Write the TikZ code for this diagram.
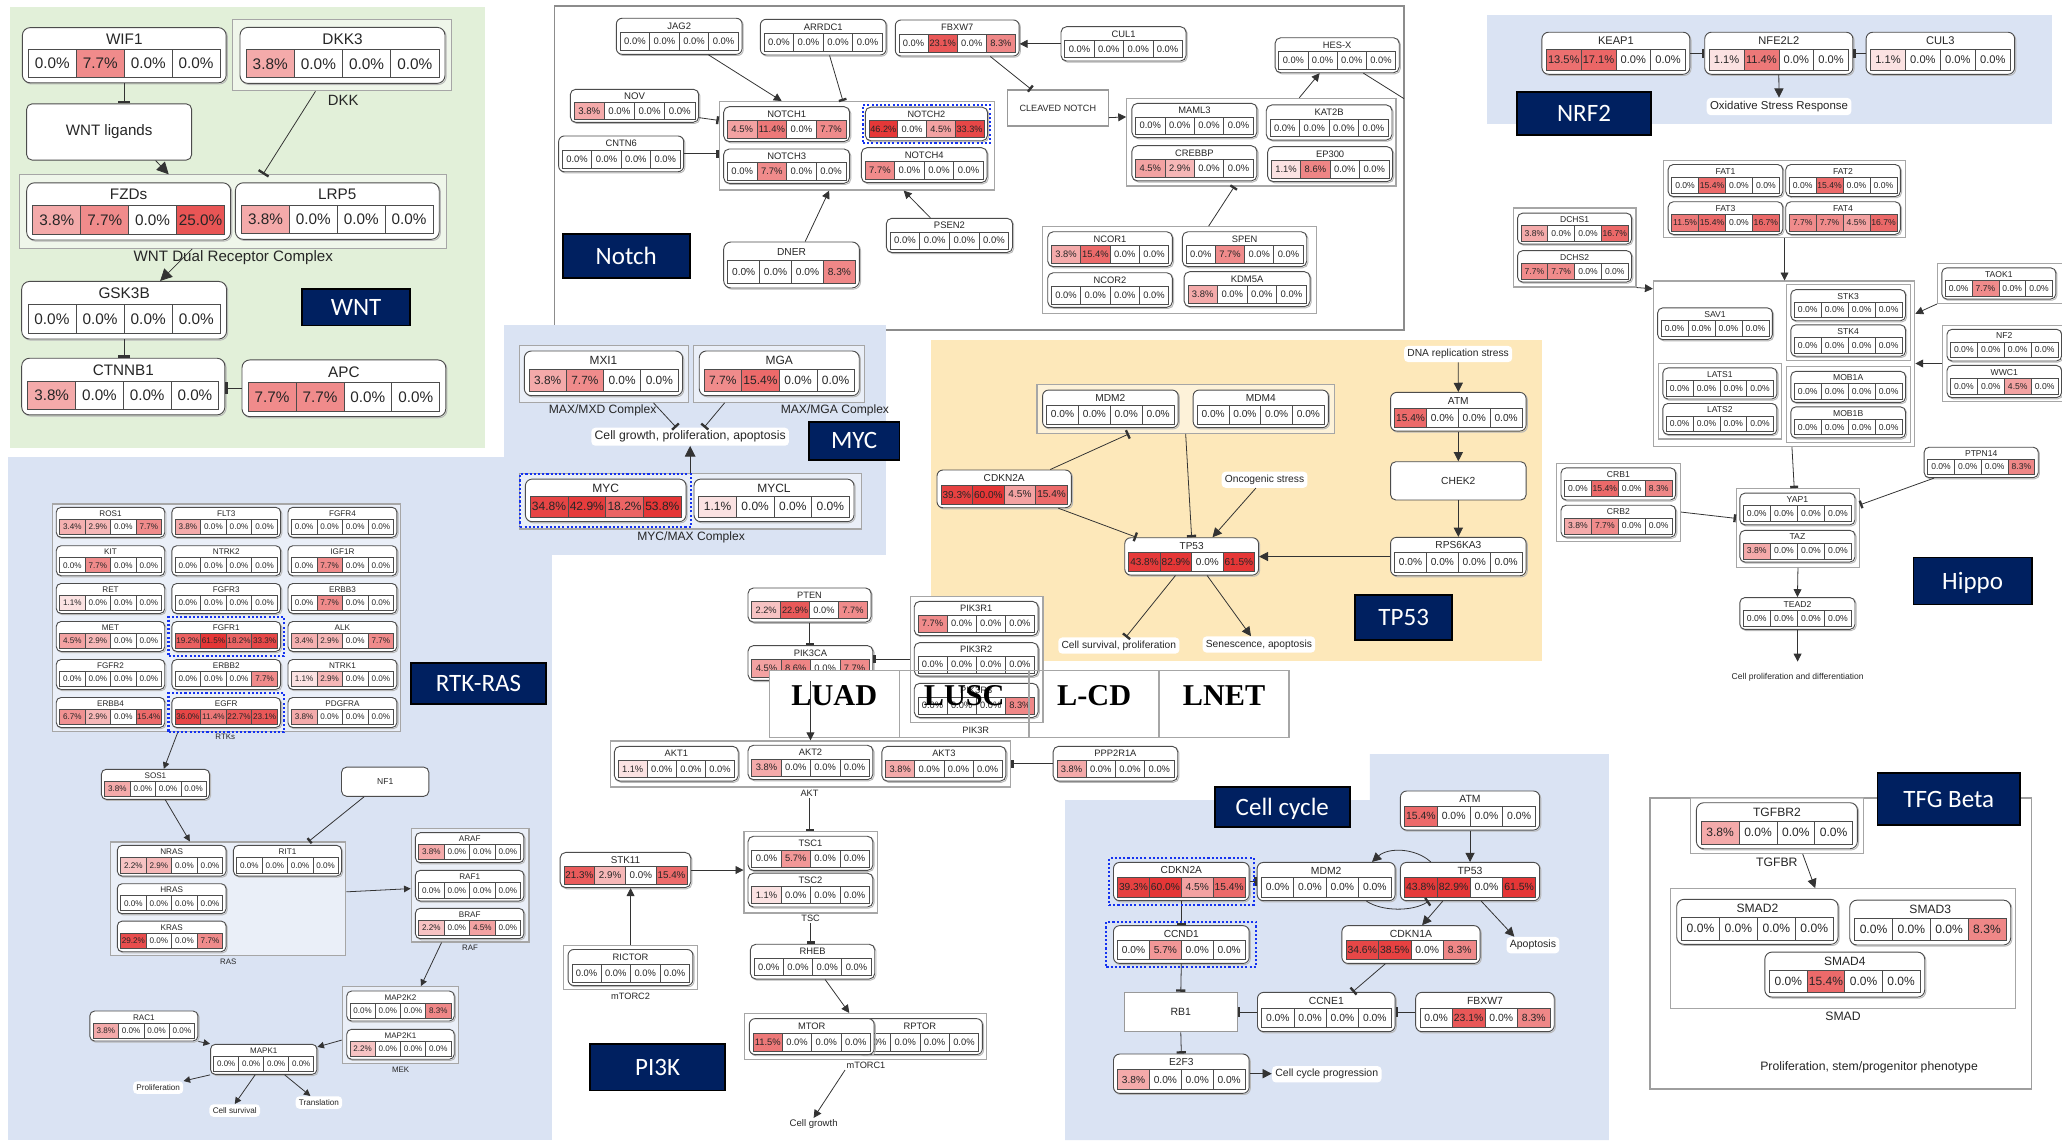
\documentclass[tikz,border=0pt]{standalone}
\usepackage{fontspec}
\setmainfont{Liberation Sans}
\newfontfamily\lblfont{Carlito}
\newfontfamily\tabfont{Liberation Serif}
\usetikzlibrary{arrows.meta,calc,fit}
\definecolor{hot}{RGB}{228,48,48}
\definecolor{pblue}{RGB}{218,227,243}
\definecolor{pgreen}{RGB}{226,240,217}
\definecolor{pyellow}{RGB}{253,232,186}
\definecolor{ttlnavy}{RGB}{0,32,96}
\definecolor{hlblue}{RGB}{20,50,240}
\newcommand{\fsz}[1]{\fontsize{#1pt}{#1pt}\selectfont}
\def\zz{0.0,0.0,0.0,0.0}

% gene box: name, x1, y1, x2, y2, title, four alteration frequencies
\newcommand{\gn}[7]{%
  \pgfmathsetmacro\gw{#4-#2}%
  \pgfmathsetmacro\gh{#5-#3}%
  \pgfmathsetmacro\gfs{0.075*\gw}%
  \pgfmathsetmacro\gcx{(#2+#4)/2}%
  \pgfmathsetmacro\gcy{(#3+#5)/2}%
  \pgfmathsetmacro\grc{min(0.16*\gh,6)}%
  \draw[black!28, line width=0.7pt, rounded corners=\grc pt] (#2+0.9,#3+0.9) rectangle (#4+0.9,#5+0.9);
  \node[genebox, rounded corners=\grc pt, minimum width=\gw pt, minimum height=\gh pt] (#1) at (\gcx,\gcy) {};
  \pgfmathsetmacro\gty{#3+0.21*\gh}%
  \node[gtext, font=\fsz{\gfs}] (#1-t) at (\gcx,\gty) {#6};
  \pgfmathsetmacro\gcw{0.94*\gw/4}%
  \pgfmathsetmacro\gch{0.5*\gh}%
  \pgfmathsetmacro\gcyc{#5-0.1*\gh-0.5*\gch}%
  \pgfmathsetmacro\gxs{#2+0.03*\gw+0.5*\gcw}%
  \edef\gvals{#7}%
  \foreach \v [count=\i from 0] in \gvals {%
    \pgfmathtruncatemacro\pc{\v<0.05 ? 0 : min(97,max(12,12+22*ln(max(\v,1))))}%
    \pgfmathsetmacro\gxc{\gxs+\i*\gcw}%
    \node[gcell, fill=hot!\pc!white, minimum width=\gcw pt, minimum height=\gch pt, font=\fsz{\gfs}] (#1-\i) at (\gxc,\gcyc) {\v\%};
  }%
}
% plain box: [style] name, x1, y1, x2, y2, text
\newcommand{\bx}[7][]{%
  \pgfmathsetmacro\bw{#5-#3}%
  \pgfmathsetmacro\bh{#6-#4}%
  \node[inner sep=0pt, #1, minimum width=\bw pt, minimum height=\bh pt] (#2) at ({(#3+#5)/2},{(#4+#6)/2}) {#7};
}

\begin{document}
\begin{tikzpicture}[x=1pt, y=-1pt,
  genebox/.style={draw=black!70, fill=white, line width=0.7pt, inner sep=0pt},
  gtext/.style={inner sep=0pt, text=black!85},
  gcell/.style={draw=black!70, line width=0.5pt, inner sep=0pt, text=black!85},
  grp/.style={draw=black!35, line width=0.9pt, fill=white, fill opacity=0.45},
  grpw/.style={draw=black!35, line width=0.9pt, fill=white},
  plain/.style={draw=black!70, fill=white, line width=0.7pt, rounded corners=4pt, text=black!85},
  sq/.style={draw=black!40, fill=white, line width=0.9pt, text=black!85},
  ptl/.style={fill=ttlnavy, draw=black, line width=1.3pt, text=white, font=\lblfont\fsz{19}, text depth=0pt},
  txt/.style={inner sep=1pt, text=black!85},
  lblw/.style={fill=white, rounded corners=3pt, inner sep=2.5pt, text=black!85},
  hl/.style={draw=hlblue, line width=1.6pt, dash pattern=on 1.6pt off 1.6pt, inner sep=2.5pt},
  frame/.style={draw=black!45, line width=1.2pt},
  tbl/.style={draw=black!35, line width=1.1pt},
  conn/.style={draw=black!80, line width=0.6pt},
  act/.style={draw=black!80, line width=0.6pt, -{Triangle[length=#1pt, width=#1pt]}},
  act/.default=6,
  inh/.style={draw=black!80, line width=0.6pt, -{Bar[width=#1pt, line width=1.8pt]}},
  inh/.default=6,
]
\useasboundingbox (0,0) rectangle (1568,867);
\fill[white] (0,0) rectangle (1568,867);

% ---------- panel backgrounds ----------
\fill[pgreen] (7.6,5) rectangle (368.7,341);
\fill[pblue] (5.9,347.8) rectangle (420,867);
\draw[frame] (421.8,4.6) rectangle (1067.6,251);
\fill[pblue] (383,247) rectangle (674,422);
\fill[pyellow] (708,258.6) rectangle (1172.5,503);
\fill[pblue] (1131,11.4) rectangle (1560,94);
\fill[pblue] (810,608.4) -- (1041.6,608.4) -- (1041.6,573.4) -- (1223.5,573.4) -- (1223.5,867) -- (810,867) -- cycle;
\draw[frame, draw=black!38] (1254.8,606.6) rectangle (1544.7,827.9);

% ---------- WNT ----------
\gn{WIF1}{17}{21}{172}{63}{WIF1}{0.0,7.7,0.0,0.0}
\bx[grp]{dkkg}{176.6}{14.7}{343.4}{69}{}
\gn{DKK3}{182.5}{20.8}{338.4}{63.4}{DKK3}{3.8,0.0,0.0,0.0}
\node[txt, font=\fsz{11.3}] (dkklab) at (261,76) {DKK};
\bx[plain, font=\fsz{11.5}]{lig}{20.3}{79}{145.7}{121.7}{WNT ligands}
\bx[grp]{dual}{14.7}{133}{339.6}{188.8}{}
\gn{FZD}{20.3}{139}{175.4}{182.5}{FZDs}{3.8,7.7,0.0,25.0}
\gn{LRP5}{179}{139}{334}{182}{LRP5}{3.8,0.0,0.0,0.0}
\node[txt, font=\fsz{11.5}] (duallab) at (177.4,196) {WNT Dual Receptor Complex};
\gn{GSK3B}{16.5}{214}{172.3}{257.8}{GSK3B}{\zz}
\gn{CTNNB1}{16.5}{272.4}{171}{315.5}{CTNNB1}{3.8,0.0,0.0,0.0}
\gn{APC}{184}{273.7}{339}{316.8}{APC}{7.7,7.7,0.0,0.0}

% ---------- Notch ----------
\bx[grp]{ntg}{547}{77.3}{756}{144.5}{}
\gn{JAG2}{468.7}{13.9}{564.3}{41.3}{JAG2}{\zz}
\gn{ARRDC1}{578.2}{14.7}{673.8}{41.8}{ARRDC1}{\zz}
\gn{nFBXW7}{680.8}{15.2}{775}{42.6}{FBXW7}{0.0,23.1,0.0,8.3}
\gn{CUL1}{806.8}{20.3}{901.9}{46.4}{CUL1}{\zz}
\gn{NOV}{433.7}{67.9}{531.3}{93}{NOV}{3.8,0.0,0.0,0.0}
\gn{CNTN6}{424.8}{103.4}{519.9}{130.6}{CNTN6}{\zz}
\gn{NOTCH1}{550.3}{81.1}{646.1}{107.7}{NOTCH1}{4.5,11.4,0.0,7.7}
\gn{NOTCH2}{658}{81.5}{751}{107}{NOTCH2}{46.2,0.0,4.5,33.3}
\gn{NOTCH3}{550.3}{113.3}{646.1}{139.4}{NOTCH3}{0.0,7.7,0.0,0.0}
\gn{NOTCH4}{655}{112.3}{750.6}{138.9}{NOTCH4}{7.7,0.0,0.0,0.0}
\gn{PSEN2}{674}{166}{770}{192}{PSEN2}{\zz}
\gn{DNER}{550.3}{184}{653.5}{219}{DNER}{0.0,0.0,0.0,8.3}
\bx[sq, font=\fsz{6.9}]{clv}{766}{68.4}{842.8}{95.8}{CLEAVED NOTCH}
\gn{HESX}{969.6}{28.7}{1064}{55.3}{HES-X}{\zz}
\bx[grp]{maml}{856.8}{74.8}{1061.6}{141.4}{}
\gn{MAML3}{860.7}{78.6}{955.8}{104.7}{MAML3}{\zz}
\gn{KAT2B}{962.9}{79.8}{1058.5}{106.5}{KAT2B}{\zz}
\gn{CREBBP}{860.7}{110.8}{955.8}{137.6}{CREBBP}{4.5,2.9,0.0,0.0}
\gn{EP300}{963.9}{111.5}{1059}{138.1}{EP300}{1.1,8.6,0.0,0.0}
\bx[grp]{ncor}{792.9}{172.4}{1001.3}{238.3}{}
\gn{NCOR1}{796.7}{176.2}{891.5}{202.8}{NCOR1}{3.8,15.4,0.0,0.0}
\gn{SPEN}{899.1}{176.2}{993.7}{202.8}{SPEN}{0.0,7.7,0.0,0.0}
\gn{NCOR2}{796.7}{207.4}{891.5}{233.7}{NCOR2}{\zz}
\gn{KDM5A}{900.4}{206.6}{996.2}{233.2}{KDM5A}{3.8,0.0,0.0,0.0}
\coordinate (nexit) at (1067.6,75);

% ---------- NRF2 ----------
\gn{KEAP1}{1172.5}{24.5}{1285}{56.5}{KEAP1}{13.5,17.1,0.0,0.0}
\gn{NFE2L2}{1296.3}{24.5}{1409}{56.5}{NFE2L2}{1.1,11.4,0.0,0.0}
\gn{CUL3}{1419}{24.5}{1532}{56.5}{CUL3}{1.1,0.0,0.0,0.0}
\node[lblw, font=\fsz{8.7}] (oxi) at (1352.8,81) {Oxidative Stress Response};

% ---------- Hippo ----------
\bx[grp]{fatg}{1265}{121.9}{1449}{180.9}{}
\gn{FAT1}{1268.5}{125.1}{1355.7}{149.5}{FAT1}{0.0,15.4,0.0,0.0}
\gn{FAT2}{1357.9}{125.1}{1445.1}{149.5}{FAT2}{0.0,15.4,0.0,0.0}
\gn{FAT3}{1268.5}{153.4}{1355.7}{178.3}{FAT3}{11.5,15.4,0.0,16.7}
\gn{FAT4}{1357.9}{153.4}{1445.1}{178.3}{FAT4}{7.7,7.7,4.5,16.7}
\bx[grp]{dchsg}{1151}{158.1}{1244}{218.2}{}
\gn{DCHS1}{1154}{162.1}{1240.7}{185.6}{DCHS1}{3.8,0.0,0.0,16.7}
\gn{DCHS2}{1154}{190.6}{1240.7}{214.5}{DCHS2}{7.7,7.7,0.0,0.0}
\bx[grp]{core}{1257.3}{213.7}{1456}{339.6}{}
\gn{SAV1}{1260.5}{234.1}{1347.8}{258.3}{SAV1}{\zz}
\bx[grp]{stkg}{1358.4}{216.3}{1452.5}{274}{}
\gn{STK3}{1361.8}{220.3}{1449}{243.9}{STK3}{\zz}
\gn{STK4}{1361.8}{247}{1449}{270.9}{STK4}{\zz}
\bx[grp]{latsg}{1261}{276.7}{1354.7}{333.8}{}
\gn{LATS1}{1264.5}{279.8}{1351.2}{303.4}{LATS1}{\zz}
\gn{LATS2}{1264.5}{306.8}{1351.2}{330.4}{LATS2}{\zz}
\bx[grp]{mobg}{1358.4}{278.8}{1452.5}{336.4}{}
\gn{MOB1A}{1361.8}{282.4}{1449}{306}{MOB1A}{\zz}
\gn{MOB1B}{1361.8}{309.4}{1449}{333}{MOB1B}{\zz}
\bx[grp]{taokg}{1473.4}{200.6}{1570}{230.7}{}
\gn{TAOK1}{1476.6}{203.7}{1563.3}{227.4}{TAOK1}{0.0,7.7,0.0,0.0}
\bx[grp]{nfg}{1477.3}{247.8}{1572}{305}{}
\gn{NF2}{1480.5}{250.4}{1567.7}{274.5}{NF2}{\zz}
\gn{WWC1}{1480.5}{277.9}{1567.7}{302.4}{WWC1}{0.0,0.0,4.5,0.0}
\gn{PTPN14}{1463.2}{340.1}{1549.9}{363.2}{PTPN14}{0.0,0.0,0.0,8.3}
\bx[grp]{crbg}{1183.7}{352.7}{1277.9}{411.7}{}
\gn{CRB1}{1187}{355.8}{1274.2}{380.2}{CRB1}{0.0,15.4,0.0,8.3}
\gn{CRB2}{1187}{384.2}{1274.2}{408.5}{CRB2}{3.8,7.7,0.0,0.0}
\bx[grp]{yapg}{1320.5}{371.6}{1413.9}{431.3}{}
\gn{YAP1}{1323}{375}{1410.6}{399.1}{YAP1}{\zz}
\gn{TAZ}{1323}{403.3}{1410.6}{427.4}{TAZ}{3.8,0.0,0.0,0.0}
\gn{TEAD2}{1323}{454.4}{1410.6}{478.6}{TEAD2}{\zz}
\node[txt, font=\fsz{6.5}] (hipout) at (1367,515.3) {Cell proliferation and differentiation};

% ---------- MYC ----------
\bx[grp]{mxig}{394.9}{262.9}{523.7}{305.9}{}
\gn{MXI1}{398.7}{266.9}{519.1}{300.9}{MXI1}{3.8,7.7,0.0,0.0}
\bx[grp]{mgag}{527.1}{262.9}{657.2}{305.9}{}
\gn{MGA}{531.7}{266.9}{653.4}{300.9}{MGA}{7.7,15.4,0.0,0.0}
\node[txt, font=\fsz{9.2}] (mxdlab) at (458.3,311.8) {MAX/MXD Complex};
\node[txt, font=\fsz{9.2}] (mgalab) at (634.9,311.8) {MAX/MGA Complex};
\node[lblw, font=\fsz{9.3}] (cgpa) at (524.8,332.1) {Cell growth, proliferation, apoptosis};
\bx[grp]{mmg}{394.9}{360}{654.8}{402.3}{}
\gn{MYC}{399.5}{364.3}{521.7}{396.7}{MYC}{34.8,42.9,18.2,53.8}
\gn{MYCL}{527.7}{364.3}{649.4}{396.7}{MYCL}{1.1,0.0,0.0,0.0}
\node[txt, font=\fsz{9.2}] (mmlab) at (525.5,408.9) {MYC/MAX Complex};

% ---------- RTK-RAS ----------
\bx[grp]{rtkg}{40.2}{383.3}{304.7}{556.1}{}
\gn{ROS1}{42.8}{385.8}{125.3}{408.6}{ROS1}{3.4,2.9,0.0,7.7}
\gn{FLT3}{130.7}{385.8}{213.4}{408.6}{FLT3}{3.8,0.0,0.0,0.0}
\gn{FGFR4}{219}{385.8}{301.8}{408.6}{FGFR4}{\zz}
\gn{KIT}{42.8}{415}{125.3}{437.8}{KIT}{0.0,7.7,0.0,0.0}
\gn{NTRK2}{130.7}{415}{213.4}{437.8}{NTRK2}{\zz}
\gn{IGF1R}{219}{415}{301.8}{437.8}{IGF1R}{0.0,7.7,0.0,0.0}
\gn{RET}{42.8}{443.7}{125.3}{466.5}{RET}{1.1,0.0,0.0,0.0}
\gn{FGFR3}{130.7}{443.7}{213.4}{466.5}{FGFR3}{\zz}
\gn{ERBB3}{219}{443.7}{301.8}{466.5}{ERBB3}{0.0,7.7,0.0,0.0}
\gn{MET}{42.8}{472.6}{125.3}{495.4}{MET}{4.5,2.9,0.0,0.0}
\gn{FGFR1}{130.7}{472.6}{213.4}{495.4}{FGFR1}{19.2,61.5,18.2,33.3}
\gn{ALK}{219}{472.6}{301.8}{495.4}{ALK}{3.4,2.9,0.0,7.7}
\gn{FGFR2}{42.8}{501.5}{125.3}{524.3}{FGFR2}{\zz}
\gn{ERBB2}{130.7}{501.5}{213.4}{524.3}{ERBB2}{0.0,0.0,0.0,7.7}
\gn{NTRK1}{219}{501.5}{301.8}{524.3}{NTRK1}{1.1,2.9,0.0,0.0}
\gn{ERBB4}{42.8}{530.4}{125.3}{553.2}{ERBB4}{6.7,2.9,0.0,15.4}
\gn{EGFR}{130.7}{530.4}{213.4}{553.2}{EGFR}{36.0,11.4,22.7,23.1}
\gn{PDGFRA}{219}{530.4}{301.8}{553.2}{PDGFRA}{3.8,0.0,0.0,0.0}
\node[txt, font=\fsz{6}] (rtklab) at (171.3,560.5) {RTKs};
\gn{SOS1}{77.1}{585}{159.3}{607.8}{SOS1}{3.8,0.0,0.0,0.0}
\bx[plain, font=\fsz{6.5}]{NF1}{259.7}{583.3}{326.1}{605.6}{NF1}
\bx[grp]{rasg}{84.3}{640.3}{263}{726.5}{}
\gn{NRAS}{89.2}{642.8}{171.9}{666.2}{NRAS}{2.2,2.9,0.0,0.0}
\gn{RIT1}{177.5}{642.8}{259.7}{666.2}{RIT1}{\zz}
\gn{HRAS}{89.2}{672}{171.9}{694.8}{HRAS}{\zz}
\gn{KRAS}{89.2}{700.4}{171.9}{723.7}{KRAS}{29.2,0.0,0.0,7.7}
\node[txt, font=\fsz{6}] (raslab) at (173.5,731) {RAS};
\bx[grp]{rafg}{312.7}{629.9}{402.2}{716.3}{}
\gn{ARAF}{315.9}{633.2}{398.4}{656}{ARAF}{3.8,0.0,0.0,0.0}
\gn{RAF1}{315.9}{661.8}{398.4}{685.2}{RAF1}{\zz}
\gn{BRAF}{315.9}{690.7}{398.4}{713.8}{BRAF}{2.2,0.0,4.5,0.0}
\node[txt, font=\fsz{6}] (raflab) at (357.4,720.8) {RAF};
\bx[grp]{mekg}{260.3}{750.3}{348.6}{808.9}{}
\gn{MAP2K2}{263.7}{753.6}{345.4}{776.4}{MAP2K2}{0.0,0.0,0.0,8.3}
\gn{MAP2K1}{263.7}{782.7}{345.4}{805.5}{MAP2K1}{2.2,0.0,0.0,0.0}
\node[txt, font=\fsz{6}] (meklab) at (304.7,813.2) {MEK};
\gn{RAC1}{68.3}{768.8}{150.5}{791.6}{RAC1}{3.8,0.0,0.0,0.0}
\gn{MAPK1}{160.1}{794.1}{241}{817}{MAPK1}{\zz}
\node[lblw, font=\fsz{6.2}] (prolif) at (120.3,827) {Proliferation};
\node[lblw, font=\fsz{6.2}] (csurv) at (178.5,844.5) {Cell survival};
\node[lblw, font=\fsz{6.2}] (transl) at (242.5,838.4) {Translation};

% ---------- TP53 ----------
\node[lblw, font=\fsz{7.8}] (dna) at (1108.8,269.2) {DNA replication stress};
\gn{tATM}{1057.4}{298.4}{1160.5}{327.8}{ATM}{15.4,0.0,0.0,0.0}
\bx[plain, font=\fsz{7.8}]{CHEK2}{1057.4}{351.1}{1160.5}{380.2}{CHEK2}
\gn{RPS6KA3}{1057.4}{408.6}{1160.5}{437.8}{RPS6KA3}{\zz}
\bx[grp]{mdmg}{788.5}{292.3}{1014.7}{329.5}{}
\gn{tMDM2}{792.8}{296.6}{895.9}{325.2}{MDM2}{\zz}
\gn{MDM4}{907.3}{296.6}{1010.1}{325.2}{MDM4}{\zz}
\gn{tCDKN2A}{712.5}{357.4}{814.7}{386.1}{CDKN2A}{39.3,60.0,4.5,15.4}
\node[lblw, font=\fsz{7.8}] (onc) at (961.6,364.8) {Oncogenic stress};
\gn{tTP53}{855.3}{408.9}{957}{437.3}{TP53}{43.8,82.9,0.0,61.5}
\node[lblw, font=\fsz{7.8}] (csp) at (850.8,490.9) {Cell survival, proliferation};
\node[lblw, font=\fsz{7.8}] (sen) at (957.3,490.1) {Senescence, apoptosis};

% ---------- PI3K ----------
\gn{PTEN}{568.8}{447.1}{662.4}{473.1}{PTEN}{2.2,22.9,0.0,7.7}
\gn{PIK3CA}{568.8}{490.9}{663.8}{517.4}{PIK3CA}{4.5,8.6,0.0,7.7}
\bx[grpw]{pikrg}{692.1}{453.5}{793.1}{549.2}{}
\gn{PIK3R1}{695.2}{457.3}{789.4}{483.3}{PIK3R1}{7.7,0.0,0.0,0.0}
\gn{PIK3R2}{695.2}{488.7}{789.4}{514.2}{PIK3R2}{\zz}
\gn{PIK3R3}{695.2}{519.6}{789.4}{545.6}{PIK3R3}{0.0,0.0,0.0,8.3}
\node[txt, font=\fsz{7}] (pikrlab) at (742,555) {PIK3R};
\bx[grp]{aktg}{464.1}{563.4}{768.7}{598.4}{}
\gn{AKT1}{467.2}{567.5}{561.4}{594}{AKT1}{1.1,0.0,0.0,0.0}
\gn{AKT2}{568.8}{566.7}{663.8}{592.9}{AKT2}{3.8,0.0,0.0,0.0}
\gn{AKT3}{670.6}{567.5}{764.9}{594}{AKT3}{3.8,0.0,0.0,0.0}
\node[txt, font=\fsz{7}] (aktlab) at (615.6,603.5) {AKT};
\gn{PPP2R1A}{800.8}{567.5}{895.6}{594}{PPP2R1A}{3.8,0.0,0.0,0.0}
\gn{STK11}{425.9}{648.2}{525.3}{675}{STK11}{21.3,2.9,0.0,15.4}
\bx[grp]{tscg}{565.8}{632.3}{667}{694.2}{}
\gn{TSC1}{568.8}{635.9}{663.8}{661.9}{TSC1}{0.0,5.7,0.0,0.0}
\gn{TSC2}{568.8}{664}{663.8}{689.7}{TSC2}{1.1,0.0,0.0,0.0}
\node[txt, font=\fsz{7}] (tsclab) at (616.4,698.5) {TSC};
\bx[grp]{rictg}{428.4}{718.8}{530.6}{752.7}{}
\gn{RICTOR}{432}{722}{526.9}{749.4}{RICTOR}{\zz}
\node[txt, font=\fsz{7}] (mtorc2lab) at (479.5,758) {mTORC2};
\gn{RHEB}{570.6}{718}{665.2}{744.5}{RHEB}{\zz}
\bx[grp]{mtorg}{566.1}{770.7}{750.3}{805.5}{}
\gn{RPTOR}{652}{774.6}{747}{801.9}{RPTOR}{\zz}
\gn{MTOR}{569.8}{774.6}{664.7}{801.9}{MTOR}{11.5,0.0,0.0,0.0}
\node[txt, font=\fsz{7}] (mtorc1lab) at (658.5,810) {mTORC1};
\node[txt, font=\fsz{7.3}] (cgrow) at (618.7,854.7) {Cell growth};

% ---------- Cell cycle ----------
\gn{cATM}{1064.9}{601.5}{1170.8}{631.2}{ATM}{15.4,0.0,0.0,0.0}
\gn{cCDKN2A}{846.7}{655.8}{949.9}{684.9}{CDKN2A}{39.3,60.0,4.5,15.4}
\gn{cMDM2}{956}{655.8}{1060.9}{684.9}{MDM2}{\zz}
\gn{cTP53}{1064.9}{655.8}{1170.8}{684.9}{TP53}{43.8,82.9,0.0,61.5}
\gn{CCND1}{846.7}{703.9}{949.9}{732.6}{CCND1}{0.0,5.7,0.0,0.0}
\gn{CDKN1A}{1020.4}{703.9}{1125.5}{732.6}{CDKN1A}{34.6,38.5,0.0,8.3}
\node[lblw, font=\fsz{8}] (apop) at (1165.7,718.7) {Apoptosis};
\bx[sq, font=\fsz{8}]{RB1}{854.9}{754.6}{940.9}{784.5}{RB1}
\gn{CCNE1}{956.2}{754.6}{1060.9}{784.5}{CCNE1}{\zz}
\gn{cFBXW7}{1076.5}{754.6}{1181.9}{784.5}{FBXW7}{0.0,23.1,0.0,8.3}
\gn{E2F3}{846.7}{801.5}{949.9}{831.4}{E2F3}{3.8,0.0,0.0,0.0}
\node[lblw, font=\fsz{8}] (ccp) at (1008.9,816.9) {Cell cycle progression};

% ---------- TGF-beta ----------
\bx[grp]{tgfbrg}{1285.7}{606.6}{1417}{648.9}{}
\gn{TGFBR2}{1290}{610.4}{1412.4}{645.4}{TGFBR2}{3.8,0.0,0.0,0.0}
\node[txt, font=\fsz{9.3}] (tgfbrlab) at (1351.1,655.5) {TGFBR};
\bx[grp]{smadg}{1270}{675.8}{1532.8}{767}{}
\gn{SMAD2}{1275}{683.9}{1397.7}{718.1}{SMAD2}{\zz}
\gn{SMAD3}{1406.6}{684.5}{1529}{718.6}{SMAD3}{0.0,0.0,0.0,8.3}
\gn{SMAD4}{1342}{724}{1463.6}{758.2}{SMAD4}{0.0,15.4,0.0,0.0}
\node[txt, font=\fsz{9.3}] (smadlab) at (1401.5,772.5) {SMAD};
\node[txt, font=\fsz{9.3}] (tgfout) at (1421.3,811.9) {Proliferation, stem/progenitor phenotype};

% ---------- subtype table ----------
\bx[tbl, fill=white]{tc1}{585}{510}{683.8}{560.7}{}
\bx[tbl]{tc2}{683.8}{510}{782.6}{560.7}{}
\bx[tbl]{tc3}{782.6}{510}{881.4}{560.7}{}
\bx[tbl]{tc4}{881.4}{510}{980.2}{560.7}{}

% ---------- connectors: WNT ----------
\draw[inh=9] (WIF1.south) -- (WIF1.south |- lig.north);
\draw[inh=9] ($(dkkg.south west)!0.38!(dkkg.south east)$) -- ($(dual.north west)!0.57!(dual.north east)$);
\draw[act=9] ($(lig.south west)!0.78!(lig.south east)$) -- ($(dual.north west)!0.35!(dual.north east)$);
\draw[act=9] ($(dual.south west)!0.405!(dual.south east)$) -- ($(GSK3B.north west)!0.675!(GSK3B.north east)$);
\draw[inh=9] (GSK3B.south) -- (GSK3B.south |- CTNNB1.north);
\draw[inh=9] (APC.west) -- (APC.west -| CTNNB1.east);

% ---------- connectors: Notch ----------
\draw[act=6] ($(JAG2.south west)!0.73!(JAG2.south east)$) -- ($(ntg.north west)!0.228!(ntg.north east)$);
\draw[inh=6] ($(ARRDC1.south west)!0.55!(ARRDC1.south east)$) -- ($(ntg.north west)!0.45!(ntg.north east)$);
\draw[inh=6] ($(NOV.north east)!0.85!(NOV.south east)$) -- ($(ntg.north west)!0.216!(ntg.south west)$);
\draw[inh=6] (CNTN6.east) -- (CNTN6.east -| ntg.west);
\draw[inh=6] ($(nFBXW7.south west)!0.765!(nFBXW7.south east)$) -- ($(clv.north west)!0.24!(clv.north east)$);
\draw[act=6] (CUL1.west) -- (CUL1.west -| nFBXW7.east);
\draw[act=6] ($(clv.north east)!0.76!(clv.south east)$) -- ($(maml.north west)!0.216!(maml.south west)$);
\draw[act=6] ($(maml.north west)!0.64!(maml.north east)$) -- ($(HESX.south west)!0.36!(HESX.south east)$);
\draw[conn] ($(HESX.south west)!0.71!(HESX.south east)$) -- (nexit);
\draw[inh=6] ($(ncor.north west)!0.605!(ncor.north east)$) -- ($(maml.south west)!0.40!(maml.south east)$);
\draw[act=6] ($(DNER.north west)!0.6!(DNER.north east)$) -- ($(ntg.south west)!0.40!(ntg.south east)$);
\draw[act=6] ($(PSEN2.north west)!0.35!(PSEN2.north east)$) -- ($(ntg.south west)!0.67!(ntg.south east)$);

% ---------- connectors: NRF2 ----------
\draw[inh=7] (KEAP1.east) -- (NFE2L2.west);
\draw[inh=7] (CUL3.west) -- (NFE2L2.east);
\draw[act=7] (NFE2L2.south) -- (oxi.north);

% ---------- connectors: Hippo ----------
\draw[act=6] (fatg.south) -- (fatg.south |- core.north);
\draw[act=6] (dchsg.south east) -- ($(core.north west)!0.05!(core.south west)$);
\draw[act=6] (taokg.south west) -- ($(core.north east)!0.2!(core.south east)$);
\draw[act=6] (nfg.west) -- (nfg.west -| core.east);
\draw[inh=6] ($(core.south west)!0.53!(core.south east)$) -- ($(yapg.north west)!0.47!(yapg.north east)$);
\draw[inh=6] ($(crbg.north east)!0.62!(crbg.south east)$) -- ($(yapg.north west)!0.38!(yapg.south west)$);
\draw[inh=6] ($(PTPN14.south west)!0.09!(PTPN14.south east)$) -- ($(yapg.north east)!0.21!(yapg.south east)$);
\draw[act=6] (yapg.south) -- (TEAD2.north);
\draw[act=6, shorten >=8pt] (TEAD2.south) -- (hipout.north);

% ---------- connectors: MYC ----------
\draw[inh=7] ($(mxig.south west)!0.79!(mxig.south east)$) -- ($(cgpa.north west)!0.43!(cgpa.north east)$);
\draw[inh=7] ($(mgag.south west)!0.186!(mgag.south east)$) -- ($(cgpa.north west)!0.57!(cgpa.north east)$);
\draw[act=8] (cgpa.south |- mmg.north) -- (cgpa.south);

% ---------- connectors: RTK-RAS ----------
\draw[act=5] ($(rtkg.south west)!0.36!(rtkg.south east)$) -- ($(SOS1.north west)!0.577!(SOS1.north east)$);
\draw[act=5] ($(SOS1.south west)!0.59!(SOS1.south east)$) -- ($(rasg.north west)!0.337!(rasg.north east)$);
\draw[inh=5] ($(NF1.south west)!0.26!(NF1.south east)$) -- ($(rasg.north west)!0.84!(rasg.north east)$);
\draw[act=5] ($(rasg.north east)!0.44!(rasg.south east)$) -- ($(rafg.north west)!0.53!(rafg.south west)$);
\draw[act=5] ($(rafg.south west)!0.26!(rafg.south east)$) -- ($(mekg.north west)!0.675!(mekg.north east)$);
\draw[act=5] ($(mekg.north west)!0.69!(mekg.south west)$) -- ($(MAPK1.north east)!0.1!(MAPK1.south east)$);
\draw[act=5] (RAC1.south east) -- (MAPK1.north west);
\draw[act=5] (MAPK1.south west) -- (prolif.north east);
\draw[act=5] ($(MAPK1.south west)!0.42!(MAPK1.south east)$) -- (csurv.north);
\draw[act=5] ($(MAPK1.south west)!0.695!(MAPK1.south east)$) -- ($(transl.north west)!0.32!(transl.north east)$);

% ---------- connectors: TP53 ----------
\draw[act=7] (dna.south) -- (tATM.north);
\draw[act=7] (tATM.south) -- (CHEK2.north);
\draw[act=7] (CHEK2.south) -- (RPS6KA3.north);
\draw[act=7] (RPS6KA3.west) -- (RPS6KA3.west -| tTP53.east);
\draw[inh=7] ($(tCDKN2A.north west)!0.84!(tCDKN2A.north east)$) -- ($(mdmg.south west)!0.31!(mdmg.south east)$);
\draw[inh=7] ($(tCDKN2A.south west)!0.9!(tCDKN2A.south east)$) -- ($(tTP53.north west)!0.09!(tTP53.north east)$);
\draw[inh=7] (mdmg.south) -- (tTP53.north);
\draw[act=7] ($(onc.south west)!0.4!(onc.south east)$) -- ($(tTP53.north west)!0.655!(tTP53.north east)$);
\draw[inh=7] ($(tTP53.south west)!0.38!(tTP53.south east)$) -- ($(csp.north west)!0.557!(csp.north east)$);
\draw[act=7] ($(tTP53.south west)!0.615!(tTP53.south east)$) -- ($(sen.north west)!0.43!(sen.north east)$);

% ---------- connectors: PI3K ----------
\draw[inh=6] (PTEN.south) -- (PTEN.south |- PIK3CA.north);
\draw[inh=6] (pikrg.west) -- (pikrg.west -| PIK3CA.east);
\draw[act=6] (PIK3CA.south) -- (PIK3CA.south |- aktg.north);
\draw[inh=6] (PPP2R1A.west) -- (PPP2R1A.west -| aktg.east);
\draw[inh=6] (aktlab.south) -- (aktlab.south |- tscg.north);
\draw[act=6] (STK11.east) -- (STK11.east -| tscg.west);
\draw[act=6] (rictg.north) -- (rictg.north |- STK11.south);
\draw[inh=6] (tsclab.south) -- (tsclab.south |- RHEB.north);
\draw[act=6] ($(RHEB.south west)!0.6!(RHEB.south east)$) -- ($(mtorg.north west)!0.433!(mtorg.north east)$);
\draw[act=6] (mtorc1lab.south west) -- (cgrow.north);

% ---------- connectors: cell cycle ----------
\draw[act=7] (cATM.south) -- (cTP53.north);
\draw[inh=7] (cCDKN2A.east) -- (cMDM2.west);
\draw[inh=7] (cCDKN2A.south) -- (CCND1.north);
\draw[inh=7] (CCND1.south) -- (RB1.north);
\draw[inh=7] (RB1.south) -- (E2F3.north);
\draw[inh=7] (CCNE1.west) -- (RB1.east);
\draw[inh=7] (cFBXW7.west) -- (CCNE1.east);
\draw[inh=7] ($(CDKN1A.south west)!0.315!(CDKN1A.south east)$) -- ($(CCNE1.north west)!0.69!(CCNE1.north east)$);
\draw[act=7] ($(cTP53.south west)!0.305!(cTP53.south east)$) -- ($(CDKN1A.north west)!0.58!(CDKN1A.north east)$);
\draw[act=7] ($(cTP53.south west)!0.58!(cTP53.south east)$) -- ($(apop.north west)!0.15!(apop.north east)$);
\draw[act=7] (E2F3.east) -- (E2F3.east -| ccp.west);
\coordinate (tpm1) at ($(cTP53.north west)!0.22!(cTP53.north east)$);
\coordinate (tpm2) at ($(cMDM2.north west)!0.83!(cMDM2.north east)$);
\draw[act=7] (tpm1) .. controls ($(tpm1)+(-12,-11)$) and ($(tpm2)+(12,-11)$) .. (tpm2);
\coordinate (mdb1) at ($(cMDM2.south west)!0.79!(cMDM2.south east)$);
\coordinate (tpb1) at ($(cTP53.south west)!0.205!(cTP53.south east)$);
\draw[inh=7] (mdb1) .. controls ($(mdb1)+(12,8)$) and ($(tpb1)+(-12,8)$) .. (tpb1);

% ---------- connectors: TGF-beta ----------
\draw[act=7] ($(tgfbrg.south west)!0.647!(tgfbrg.south east)$) -- ($(smadg.north west)!0.42!(smadg.north east)$);

% ---------- highlighted genes ----------
\node[hl, inner sep=1.5pt, fit=(NOTCH2)] (NOTCH2-hl) {};
\node[hl, inner xsep=2.2pt, inner ysep=3.3pt, fit=(FGFR1)] (FGFR1-hl) {};
\node[hl, inner xsep=2.2pt, inner ysep=3.3pt, fit=(EGFR)] (EGFR-hl) {};
\node[hl, inner sep=3.5pt, fit=(MYC)] (MYC-hl) {};
\node[hl, inner sep=3pt, fit=(cCDKN2A)] (cCDKN2A-hl) {};
\node[hl, inner xsep=5pt, inner ysep=2.5pt, fit=(CCND1)] (CCND1-hl) {};

% ---------- pathway titles ----------
\bx[ptl]{wntT}{229.9}{220}{311.7}{247.6}{WNT}
\bx[ptl]{notchT}{427.9}{178.2}{524.5}{211.2}{Notch}
\bx[ptl]{nrfT}{1153.8}{69.7}{1255.2}{102.7}{NRF2}
\bx[ptl]{hipT}{1455}{424}{1545}{459.7}{Hippo}
\bx[ptl]{mycT}{615}{320.7}{684}{349.8}{MYC}
\bx[ptl]{rtkT}{312.6}{504.4}{415}{535.4}{RTK-RAS}
\bx[ptl]{tpT}{1030.6}{452.5}{1104.2}{486.7}{TP53}
\bx[ptl]{pikT}{448.8}{793.8}{551.3}{829.3}{PI3K}
\bx[ptl]{ccT}{923.7}{598.7}{1026.5}{629.1}{Cell cycle}
\bx[ptl]{tgfT}{1427.6}{588}{1536.1}{627.6}{TFG Beta}

% ---------- subtype headers ----------
\node[font=\tabfont\bfseries\fsz{23}, inner sep=0pt] (hLUAD) at (634.4,529) {LUAD};
\node[font=\tabfont\bfseries\fsz{23}, inner sep=0pt] (hLUSC) at (733.2,529) {LUSC};
\node[font=\tabfont\bfseries\fsz{23}, inner sep=0pt] (hLCD) at (832,529) {L-CD};
\node[font=\tabfont\bfseries\fsz{23}, inner sep=0pt] (hLNET) at (930.8,529) {LNET};
\end{tikzpicture}
\end{document}
